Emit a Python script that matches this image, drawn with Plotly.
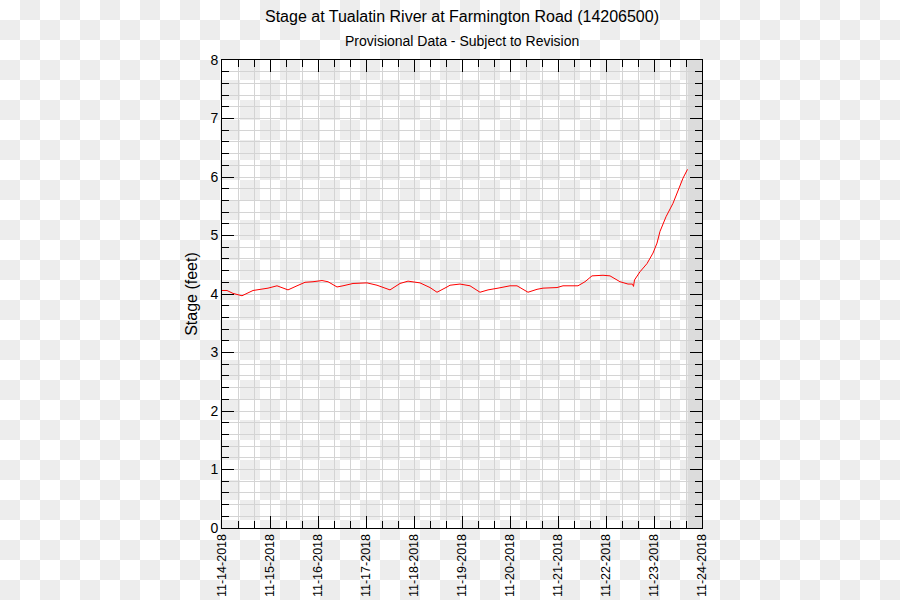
import base64
import plotly.graph_objects as go

# ---- data ----
times = [
    "2018-11-14 00:00", "2018-11-14 02:30", "2018-11-14 05:30", "2018-11-14 10:00",
    "2018-11-14 15:30", "2018-11-14 19:00", "2018-11-14 23:00", "2018-11-15 03:30",
    "2018-11-15 09:00", "2018-11-15 13:30", "2018-11-15 17:30", "2018-11-15 21:30",
    "2018-11-16 02:00", "2018-11-16 05:00", "2018-11-16 09:30", "2018-11-16 12:30",
    "2018-11-16 17:30", "2018-11-17 00:30", "2018-11-17 05:30", "2018-11-17 12:00",
    "2018-11-17 17:00", "2018-11-17 21:00", "2018-11-18 03:00", "2018-11-18 08:00",
    "2018-11-18 11:30", "2018-11-18 16:30", "2018-11-18 18:00", "2018-11-18 23:00",
    "2018-11-19 04:00", "2018-11-19 09:00", "2018-11-19 13:00", "2018-11-19 18:00",
    "2018-11-20 00:00", "2018-11-20 03:30", "2018-11-20 09:00", "2018-11-20 13:30",
    "2018-11-20 16:30", "2018-11-20 23:30", "2018-11-21 02:30", "2018-11-21 10:00",
    "2018-11-21 13:30", "2018-11-21 17:00", "2018-11-21 22:30", "2018-11-22 02:00",
    "2018-11-22 07:00", "2018-11-22 11:00", "2018-11-22 13:15", "2018-11-22 13:45",
    "2018-11-22 14:15", "2018-11-22 17:00", "2018-11-22 20:30", "2018-11-22 23:30",
    "2018-11-23 01:30", "2018-11-23 03:00", "2018-11-23 06:00", "2018-11-23 09:30",
    "2018-11-23 12:00", "2018-11-23 14:30", "2018-11-23 16:45",
]
stage_ft = [
    4.06, 4.06, 4.01, 3.97,
    4.06, 4.08, 4.10, 4.14,
    4.07, 4.14, 4.20, 4.21,
    4.23, 4.21, 4.12, 4.14,
    4.18, 4.19, 4.15, 4.07,
    4.18, 4.22, 4.19, 4.11,
    4.03, 4.12, 4.15, 4.17,
    4.14, 4.03, 4.07, 4.10,
    4.14, 4.14, 4.03, 4.08,
    4.10, 4.11, 4.14, 4.14,
    4.21, 4.31, 4.32, 4.31,
    4.21, 4.17, 4.17, 4.13,
    4.24, 4.38, 4.52, 4.70,
    4.87, 5.07, 5.32, 5.55,
    5.78, 5.98, 6.13,
]
x_range = ["2018-11-14 00:00", "2018-11-24 00:00"]
y_range = [0, 8]

title_text = "Stage at Tualatin River at Farmington Road (14206500)"
subtitle_text = "Provisional Data - Subject to Revision"
y_title = "Stage (feet)"

# ---- layout constants ----
W, H = 900, 600
ML, MR, MT, MB = 222, 198, 60, 72
PW, PH = W - ML - MR, H - MT - MB
FONT = "Liberation Sans, Arial, Helvetica, sans-serif"
GRID = "#d4d4d4"

# checkerboard background (transparent-PNG look)
svg = (
    '<svg xmlns="http://www.w3.org/2000/svg" width="900" height="600">'
    '<defs><pattern id="p" width="40" height="40" patternUnits="userSpaceOnUse">'
    '<rect width="40" height="40" fill="#ffffff"/>'
    '<rect x="20" y="0" width="20" height="20" fill="#ededed"/>'
    '<rect x="0" y="20" width="20" height="20" fill="#ededed"/>'
    '</pattern></defs><rect width="900" height="600" fill="url(#p)"/></svg>'
)
svg_uri = "data:image/svg+xml;base64," + base64.b64encode(svg.encode()).decode()

fig = go.Figure()
fig.add_trace(go.Scatter(
    x=times, y=stage_ft, mode="lines",
    line=dict(color="#ff0000", width=1),
    hoverinfo="x+y", showlegend=False,
))

fig.add_layout_image(dict(
    source=svg_uri, xref="paper", yref="paper",
    x=-ML / PW, y=1 + MT / PH, sizex=W / PW, sizey=H / PH,
    xanchor="left", yanchor="top", sizing="stretch", layer="below",
))

# shaded strip after the last observation
fig.add_shape(type="rect", xref="x", yref="paper",
              x0=times[-1], x1=x_range[1], y0=0, y1=1,
              fillcolor="#dcdcdc", line=dict(width=0), layer="between")

fig.add_annotation(text=subtitle_text, xref="paper", yref="paper",
                   x=0.5, y=1 + (MT - 41) / PH, xanchor="center", yanchor="middle",
                   showarrow=False, font=dict(family=FONT, size=14, color="#000"))

fig.update_layout(
    width=W, height=H,
    margin=dict(l=ML, r=MR, t=MT, b=MB, pad=0, autoexpand=False),
    paper_bgcolor="rgba(0,0,0,0)", plot_bgcolor="rgba(0,0,0,0)",
    font=dict(family=FONT, color="#000"),
    title=dict(text=title_text, x=0.5, xref="paper", xanchor="center",
               y=1 - 16 / H, yanchor="middle",
               font=dict(family=FONT, size=16, color="#000")),
    xaxis=dict(
        type="date", range=x_range, dtick=86400000, tick0=x_range[0],
        tickformat="%m-%d-%Y", tickangle=-90, automargin=False,
        ticks="inside", ticklen=12, tickcolor="#000", tickwidth=1,
        showline=True, linecolor="#000", linewidth=1, mirror="allticks",
        showgrid=True, gridcolor=GRID, gridwidth=1, zeroline=False,
        tickfont=dict(family=FONT, size=12.5, color="#000"),
        minor=dict(dtick=8 * 3600000, ticks="inside", ticklen=7,
                   tickcolor="#000", showgrid=True, gridcolor=GRID, gridwidth=1),
        fixedrange=True,
    ),
    yaxis=dict(
        range=y_range, dtick=1, tick0=0, automargin=False,
        ticks="inside", ticklen=12, tickcolor="#000", tickwidth=1,
        showline=True, linecolor="#000", linewidth=1, mirror="allticks",
        showgrid=True, gridcolor=GRID, gridwidth=1, zeroline=False,
        tickfont=dict(family=FONT, size=14, color="#000"),
        minor=dict(dtick=0.2, ticks="inside", ticklen=7,
                   tickcolor="#000", showgrid=True, gridcolor=GRID, gridwidth=1),
        title=dict(text=y_title, standoff=8,
                   font=dict(family=FONT, size=16, color="#000")),
        fixedrange=True,
    ),
)

fig.write_html("out.html")
